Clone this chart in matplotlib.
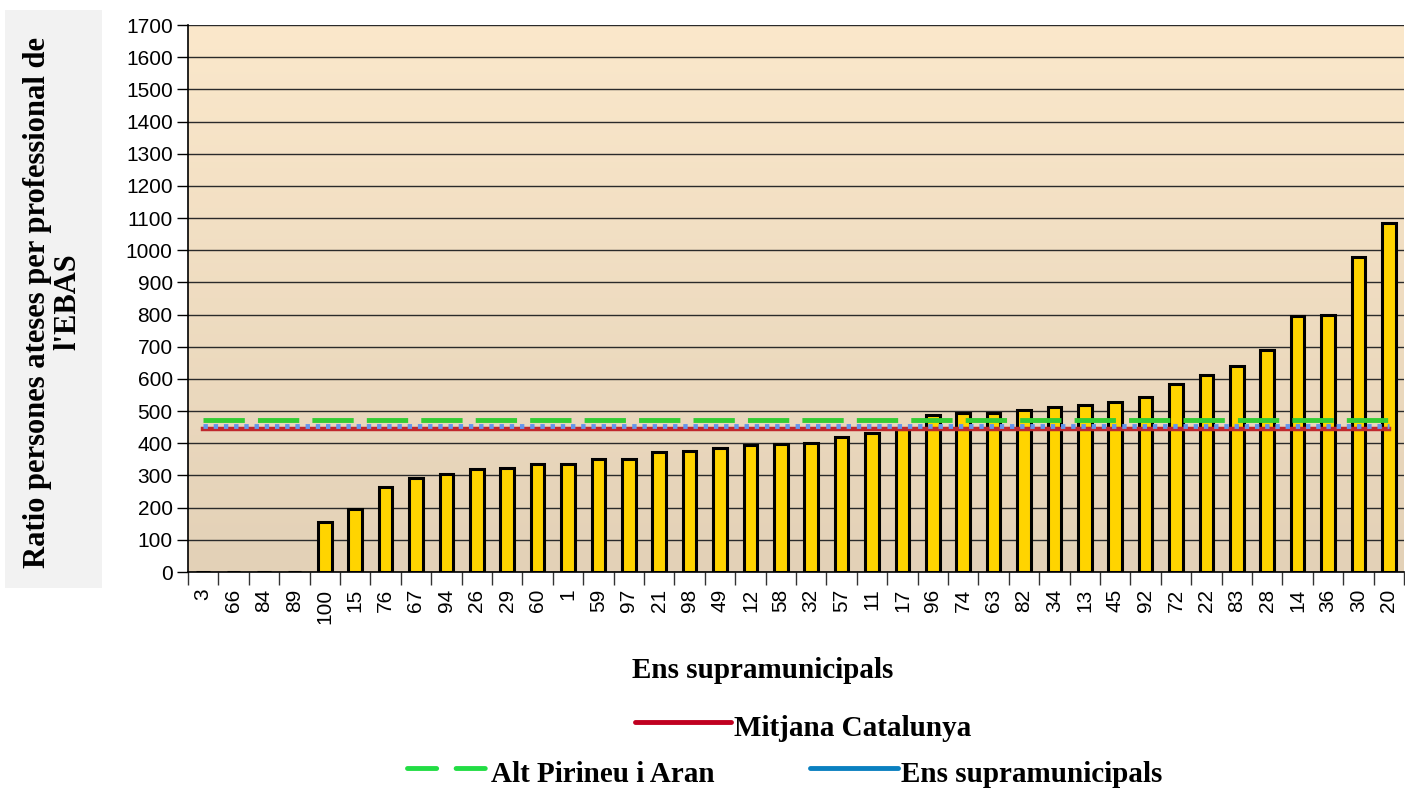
import matplotlib.pyplot as plt
import numpy as np
from matplotlib.lines import Line2D
from matplotlib.patches import Rectangle

# Ens supramunicipals ordered by ratio
ens = ["3", "66", "84", "89", "100", "15", "76", "67", "94", "26",
       "29", "60", "1", "59", "97", "21", "98", "49", "12", "58",
       "32", "57", "11", "17", "96", "74", "63", "82", "34", "13",
       "45", "92", "72", "22", "83", "28", "14", "36", "30", "20"]
ratio = [0, 0, 0, 0, 155, 196, 264, 292, 304, 320,
         323, 336, 336, 351, 351, 372, 375, 384, 395, 398,
         401, 420, 433, 445, 489, 493, 495, 503, 512, 519,
         528, 543, 583, 611, 639, 689, 795, 799, 979, 1085]

mitjana_catalunya = 445
alt_pirineu_aran = 471
ens_supramunicipals = 455

serif = ["Liberation Serif", "DejaVu Serif"]
sans = ["Liberation Sans", "DejaVu Sans"]

fig = plt.figure(figsize=(14.05, 7.9), dpi=100)
W, H = 1405, 790
ax = fig.add_axes([188 / W, 1 - 572 / H, 1216 / W, 547 / H])

x = np.arange(len(ens))
ax.set_xlim(-0.5, len(ens) - 0.5)
ax.set_ylim(0, 1700)

# gradient background of the plot area
grad = np.linspace(0, 1, 256).reshape(-1, 1)
top = np.array([251, 232, 203]) / 255
bot = np.array([227, 209, 183]) / 255
img = top * (1 - grad[..., None]) + bot * grad[..., None]
img = np.repeat(img, 2, axis=1)
ax.imshow(img, extent=(-0.5, len(ens) - 0.5, 0, 1700), aspect="auto", zorder=0)

ax.set_yticks(np.arange(0, 1701, 100))
ax.grid(axis="y", color="#2a2a2a", linewidth=1.0, zorder=1)

ax.bar(x, ratio, width=0.45, color="#FFD400", edgecolor="black", linewidth=2.2, zorder=3)

ax.plot([x[0], x[-1]], [mitjana_catalunya] * 2, color="#C0282D", linewidth=3.2, zorder=4)
ax.plot([x[0], x[-1]], [ens_supramunicipals] * 2, color="#6495ED", linewidth=3.5,
        linestyle=(0, (0.9, 1.2)), zorder=5)
ax.plot([x[0], x[-1]], [alt_pirineu_aran] * 2, color="#33CC33", linewidth=3.5,
        linestyle=(0, (8.5, 2.7)), zorder=5)

ax.set_xticks(x)
ax.set_xticklabels(ens, rotation=90, fontsize=15, family=sans)
ax.set_xticks(np.arange(-0.5, len(ens), 1), minor=True)
ax.tick_params(axis="x", which="major", length=0, pad=12)
ax.tick_params(axis="x", which="minor", length=9, width=1, color="#333333")
ax.tick_params(axis="y", length=8, width=1, labelsize=15, pad=3)
for lbl in ax.get_yticklabels():
    lbl.set_family(sans)

for s in ["top", "right"]:
    ax.spines[s].set_visible(False)
ax.spines["left"].set_linewidth(1.2)
ax.spines["bottom"].set_linewidth(1.2)

# y axis title in grey box
fig.patches.append(Rectangle((5 / W, 1 - 588 / H), 97 / W, 578 / H,
                             transform=fig.transFigure, facecolor="#F2F2F2",
                             edgecolor="none", zorder=0))
fig.text(53 / W, 1 - 302 / H, "Ratio persones ateses per professional de\nl'EBAS",
         rotation=90, ha="center", va="center", fontsize=22, fontweight="bold",
         family=serif, linespacing=1.05)

fig.text(763 / W, 1 - 670 / H, "Ens supramunicipals", ha="center", va="center",
         fontsize=21, fontweight="bold", family=serif)

# legend
def legend_entry(x0, x1, y, color, label, ls="-"):
    fig.lines.append(Line2D([x0 / W, x1 / W], [1 - y / H] * 2, transform=fig.transFigure,
                            color=color, linewidth=3.5, linestyle=ls, solid_capstyle="round",
                            dash_capstyle="round"))
    fig.text((x1 + 3) / W, 1 - (y + 6) / H, label, ha="left", va="center",
             fontsize=21, fontweight="bold", family=serif)

legend_entry(635, 731, 722, "#C00020", "Mitjana Catalunya")
legend_entry(407, 488, 768, "#22DD44", "Alt Pirineu i Aran", ls=(0, (6, 4)))
legend_entry(810, 898, 768, "#0A80C0", "Ens supramunicipals")

fig.savefig("out.png", dpi=100)
